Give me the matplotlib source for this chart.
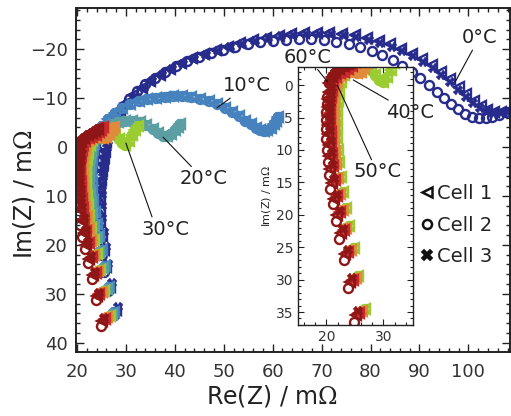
import matplotlib
matplotlib.use('Agg')
import matplotlib.pyplot as plt
from matplotlib.lines import Line2D
from matplotlib.ticker import MultipleLocator

plt.rcParams['font.family'] = 'DejaVu Sans'
plt.rcParams['mathtext.fontset'] = 'dejavuserif'

temps = [0, 10, 20, 30, 40, 50, 60]
colors = ['#262b8c', '#4682bd', '#5b9ea4', '#9acd32', '#e08a3c', '#c62a2a', '#8e1616']
cell_labels = ['Cell 1', 'Cell 2', 'Cell 3']
cell_markers = ['<', 'o', 'X']

# 0 °C - the three cells separate clearly, so each has its own spectrum
re_0_c1 = [27.9, 26.7, 26.0, 25.5, 25.1, 24.8, 24.7, 24.7, 24.8, 24.9, 25.1, 25.3, 25.5, 25.8,
           26.0, 26.7, 27.6, 28.7, 30.0, 31.5, 33.2, 35.0, 37.0, 39.1, 41.3, 43.6, 46.0, 48.4,
           50.9, 53.4, 56.0, 58.6, 61.2, 63.8, 66.4, 69.0, 71.6, 74.2, 76.8, 79.3, 81.7, 84.0,
           86.3, 88.5, 90.6, 92.6, 94.5, 96.3, 98.0, 99.6, 101.1, 102.5, 103.9, 105.3, 106.7,
           108.1, 109.5]
im_0_c1 = [33.4, 28.6, 24.6, 21.1, 18.1, 15.3, 12.8, 10.5, 8.5, 6.7, 5.0, 3.5, 2.1, 0.8,
           -1.0, -3.3, -5.4, -7.3, -9.0, -10.6, -12.1, -13.5, -14.8, -16.0, -17.1, -18.1, -19.0, -19.8,
           -20.5, -21.2, -21.8, -22.3, -22.7, -23.0, -23.2, -23.3, -23.3, -23.1, -22.8, -22.3, -21.7, -21.0,
           -20.1, -19.1, -18.0, -16.7, -15.3, -13.8, -12.3, -10.8, -9.4, -8.3, -7.5, -7.1, -7.1,
           -7.4, -7.9]
re_0_c2 = [27.6, 26.4, 25.6, 25.1, 24.7, 24.4, 24.3, 24.3, 24.4, 24.5, 24.7, 24.9, 25.1, 25.3,
           25.6, 26.2, 27.0, 28.0, 29.2, 30.6, 32.2, 34.0, 35.9, 38.0, 40.2, 42.5, 44.9, 47.3,
           49.8, 52.3, 54.9, 57.5, 60.1, 62.7, 65.3, 67.9, 70.5, 73.0, 75.5, 77.9, 80.2, 82.4,
           84.5, 86.5, 88.4, 90.2, 91.9, 93.5, 95.0, 96.5, 97.9, 99.3, 100.7, 102.1, 103.5,
           104.9, 106.3, 107.7]
im_0_c2 = [34.3, 29.5, 25.5, 22.0, 19.0, 16.2, 13.6, 11.3, 9.2, 7.4, 5.7, 4.1, 2.7, 1.3,
           -0.4, -2.4, -4.4, -6.3, -8.1, -9.8, -11.4, -12.9, -14.2, -15.4, -16.5, -17.5, -18.4, -19.2,
           -19.9, -20.5, -21.0, -21.4, -21.7, -21.9, -22.0, -22.0, -21.8, -21.5, -21.0, -20.4, -19.6, -18.7,
           -17.7, -16.6, -15.4, -14.1, -12.7, -11.3, -10.0, -8.8, -7.7, -6.8, -6.2, -5.9, -5.9,
           -6.2, -6.6, -7.1]
re_0_c3 = [28.3, 27.1, 26.4, 25.9, 25.5, 25.2, 25.1, 25.1, 25.2, 25.3, 25.5, 25.7, 25.9, 26.1,
           26.4, 27.1, 28.0, 29.1, 30.4, 31.9, 33.6, 35.4, 37.4, 39.5, 41.7, 44.0, 46.4, 48.8,
           51.3, 53.8, 56.4, 59.0, 61.6, 64.2, 66.8, 69.4, 72.0, 74.6, 77.1, 79.6, 82.0, 84.3,
           86.5, 88.7, 90.7, 92.7, 94.5, 96.3, 97.9, 99.5, 101.0, 102.4, 103.8, 105.2, 106.6,
           108.0, 109.4]
im_0_c3 = [32.7, 27.8, 23.9, 20.4, 17.4, 14.6, 12.1, 9.9, 7.9, 6.1, 4.5, 3.0, 1.6, 0.3,
           -1.2, -3.3, -5.3, -7.2, -8.9, -10.5, -12.0, -13.4, -14.7, -15.9, -17.0, -18.0, -18.9, -19.7,
           -20.4, -21.1, -21.7, -22.2, -22.6, -22.9, -23.0, -23.1, -23.0, -22.8, -22.4, -21.9, -21.3, -20.5,
           -19.6, -18.6, -17.4, -16.1, -14.7, -13.2, -11.7, -10.3, -9.0, -8.0, -7.3, -6.9, -6.9,
           -7.2, -7.6]

# 10-50 °C - the cells overlap, one spectrum each
re_10 = [27.6, 26.5, 25.7, 25.1, 24.5, 24.0, 23.6, 23.3, 23.1, 23.0, 22.95, 22.95, 23.0, 23.1, 23.3,
         23.5, 24.2, 25.2, 26.4, 27.8, 29.3, 30.9, 32.6, 34.3, 36.1, 37.9, 39.7, 41.5, 43.3, 45.1,
         46.9, 48.6, 50.2, 51.7, 53.1, 54.4, 55.5, 56.5, 57.4, 58.2, 58.9, 59.6, 60.2, 60.7, 61.1]
im_10 = [33.8, 28.7, 24.4, 21.0, 18.2, 15.7, 13.3, 11.1, 9.2, 7.4, 5.8, 4.3, 2.9, 1.6, 0.4,
         -0.8, -2.6, -4.2, -5.7, -7.0, -8.0, -8.8, -9.4, -9.8, -10.1, -10.3, -10.4, -10.4, -10.2, -9.8,
         -9.3, -8.7, -8.0, -7.2, -6.3, -5.4, -4.6, -3.9, -3.4, -3.2, -3.4, -3.9, -4.6, -5.4, -6.2]
re_20 = [27.2, 26.1, 25.3, 24.6, 24.0, 23.5, 23.1, 22.8, 22.6, 22.5, 22.45, 22.45, 22.5, 22.6, 22.8,
         23.0, 23.6, 24.5, 25.6, 26.9, 28.3, 29.8, 31.3, 32.8, 34.2, 35.5, 36.6, 37.6, 38.5, 39.3,
         40.0, 40.6, 41.1]
im_20 = [34.1, 29.0, 24.7, 21.4, 18.6, 16.1, 13.7, 11.5, 9.6, 7.8, 6.2, 4.7, 3.3, 2.0, 0.8,
         -0.6, -1.8, -2.9, -3.8, -4.6, -5.1, -5.4, -5.4, -5.1, -4.5, -3.7, -2.9, -2.3, -2.2, -2.7,
         -3.4, -4.1, -4.7]
re_30 = [26.7, 25.6, 24.8, 24.0, 23.4, 22.9, 22.5, 22.2, 22.0, 21.9, 21.85, 21.85, 21.9, 22.0, 22.2,
         22.6, 23.1, 23.7, 24.4, 25.3, 26.2, 27.0, 27.8, 28.5, 29.2, 29.9, 30.6, 31.3, 31.9, 32.4]
im_30 = [34.5, 29.4, 25.1, 21.8, 19.0, 16.5, 14.1, 11.9, 10.0, 8.2, 6.6, 5.1, 3.7, 2.4, 1.2,
         -0.5, -1.5, -2.3, -2.8, -3.1, -3.2, -3.0, -2.4, -1.6, -0.8, -0.5, -1.3, -2.4, -3.4, -4.3]
re_40 = [26.2, 25.1, 24.3, 23.5, 22.9, 22.4, 22.0, 21.7, 21.5, 21.4, 21.3, 21.25, 21.25, 21.3, 21.4, 21.6,
         21.9, 22.5, 23.2, 23.9, 24.6, 25.3, 26.0, 26.6, 27.1, 27.5]
im_40 = [34.8, 29.7, 25.4, 22.1, 19.3, 16.8, 14.4, 12.2, 10.3, 8.5, 6.9, 5.4, 4.0, 2.7, 1.5, 0.4,
         -0.6, -1.4, -2.0, -2.2, -2.0, -1.8, -2.1, -2.7, -3.4, -4.0]
re_50 = [25.7, 24.6, 23.8, 23.0, 22.4, 21.9, 21.5, 21.2, 21.0, 20.85, 20.75, 20.7, 20.7, 20.7, 20.8, 20.95,
         21.2, 21.7, 22.4, 23.1, 23.8, 24.5, 25.0, 25.3]
im_50 = [35.1, 30.0, 25.7, 22.4, 19.6, 17.1, 14.7, 12.5, 10.6, 8.8, 7.2, 5.7, 4.3, 3.0, 1.8, 0.7,
         -0.4, -1.2, -1.8, -2.1, -2.5, -3.0, -3.5, -4.0]

# 60 °C - inductive tails differ per cell, the short top part is shared
re_60_top = [20.5, 20.9, 21.5, 22.2, 23.0, 23.7, 24.2]
im_60_top = [-0.3, -1.2, -1.9, -2.5, -2.9, -3.3, -3.6]
re_60_c1 = [25.2, 24.1, 23.3, 22.5, 21.9, 21.4, 21.0, 20.7, 20.5, 20.4, 20.3, 20.3, 20.3, 20.3, 20.35, 20.45] + re_60_top
im_60_c1 = [35.5, 30.4, 26.1, 22.8, 20.0, 17.5, 15.1, 12.9, 11.0, 9.2, 7.6, 6.1, 4.7, 3.4, 2.2, 1.1] + im_60_top
re_60_c2 = [24.9, 23.8, 23.0, 22.2, 21.6, 21.1, 20.7, 20.4, 20.2, 20.1, 20.0, 20.0, 20.0, 20.0, 20.05, 20.15] + re_60_top
im_60_c2 = [36.5, 31.3, 27.0, 23.7, 20.9, 18.4, 16.0, 13.8, 11.8, 10.0, 8.3, 6.8, 5.4, 4.1, 2.9, 1.8] + im_60_top
re_60_c3 = [25.6, 24.5, 23.7, 22.9, 22.3, 21.8, 21.4, 21.1, 20.9, 20.8, 20.7, 20.7, 20.7, 20.75, 20.85, 21.0] + re_60_top
im_60_c3 = [34.9, 29.8, 25.5, 22.2, 19.4, 16.9, 14.5, 12.3, 10.4, 8.6, 7.0, 5.5, 4.1, 2.8, 1.6, 0.5] + im_60_top

spectra = {
    0: [(re_0_c1, im_0_c1), (re_0_c2, im_0_c2), (re_0_c3, im_0_c3)],
    10: [(re_10, im_10)] * 3,
    20: [(re_20, im_20)] * 3,
    30: [(re_30, im_30)] * 3,
    40: [(re_40, im_40)] * 3,
    50: [(re_50, im_50)] * 3,
    60: [(re_60_c1, im_60_c1), (re_60_c2, im_60_c2), (re_60_c3, im_60_c3)],
}


def draw_cell(ax, re, im, marker, color):
    if marker == 'X':
        ax.plot(re, im, ls='none', marker='X', ms=7, mfc=color, mec=color, mew=0.3)
    elif marker == '<':
        ax.plot(re, im, ls='none', marker='<', ms=7.5, mfc='none', mec=color, mew=1.7)
    else:
        ax.plot(re, im, ls='none', marker='o', ms=6.5, mfc='none', mec=color, mew=1.7)


def style_axes(ax, length, width, labelsize):
    ax.tick_params(which='both', direction='in', top=True, right=True,
                   colors='#222222', labelcolor='#333333', labelsize=labelsize)
    ax.tick_params(which='major', length=length, width=width)
    ax.tick_params(which='minor', length=length / 2, width=width)
    for spine in ax.spines.values():
        spine.set_linewidth(1.4)
        spine.set_edgecolor('#222222')


fig = plt.figure(figsize=(5.11, 4.16), dpi=100)
ax = fig.add_axes([0.1487, 0.1538, 0.8493, 0.8269])

# hot spectra drawn last so they sit on top
for T, c in zip(temps, colors):
    for (re, im), m in zip(spectra[T], cell_markers):
        draw_cell(ax, re, im, m, c)

ax.set_xlim(19.8, 108.5)
ax.set_ylim(41.9, -28.4)
ax.xaxis.set_major_locator(MultipleLocator(10))
ax.xaxis.set_minor_locator(MultipleLocator(2))
ax.yaxis.set_major_locator(MultipleLocator(10))
ax.yaxis.set_minor_locator(MultipleLocator(2))
style_axes(ax, 6, 1.0, 13)
ax.tick_params(axis='x', which='major', pad=8)
ax.tick_params(axis='y', which='major', pad=6)
ax.set_xlabel(r'Re(Z) / m$\Omega$', fontsize=17, color='#222222')
ax.set_ylabel(r'Im(Z) / m$\Omega$', fontsize=17, color='#222222')
ax.xaxis.set_label_coords(0.452, -0.09)
ax.yaxis.set_label_coords(-0.09, 0.46)

line = dict(arrowstyle='-', color='#111111', lw=0.8, shrinkA=0, shrinkB=0)
ax.annotate('0°C', xy=(97.3, -13.3), xytext=(102.2, -22.3), ha='center', va='center',
            fontsize=14, color='#222222', arrowprops=line)
ax.annotate('10°C', xy=(48.6, -8.0), xytext=(54.8, -12.5), ha='center', va='center',
            fontsize=14, color='#222222', arrowprops=line)
ax.annotate('20°C', xy=(37.6, -2.0), xytext=(45.8, 6.5), ha='center', va='center',
            fontsize=14, color='#222222', arrowprops=line)
ax.annotate('30°C', xy=(30.0, -0.8), xytext=(38.0, 16.8), ha='center', va='center',
            fontsize=14, color='#222222', arrowprops=dict(line, relpos=(0.25, 1.0)))

handles = [Line2D([], [], ls='none', marker='<', ms=7, mfc='none', mec='#111111', mew=1.8),
           Line2D([], [], ls='none', marker='o', ms=6.5, mfc='none', mec='#111111', mew=1.8),
           Line2D([], [], ls='none', marker='X', ms=8, mfc='#111111', mec='#111111', mew=0.3)]
ax.legend(handles, cell_labels, loc='upper left', bbox_to_anchor=(0.79, 0.488),
          frameon=False, fontsize=14, handlelength=0.8, handletextpad=0.15,
          labelspacing=0.64, borderpad=0, borderaxespad=0, labelcolor='#222222')

# zoom on the warm spectra
ins = fig.add_axes([0.5832, 0.2188, 0.2250, 0.6202])
for T, c in zip(temps[3:], colors[3:]):
    for (re, im), m in zip(spectra[T], cell_markers):
        draw_cell(ins, re, im, m, c)
ins.set_xlim(15, 35.2)
ins.set_ylim(37, -2.8)
ins.xaxis.set_major_locator(MultipleLocator(10))
ins.xaxis.set_minor_locator(MultipleLocator(2))
ins.yaxis.set_major_locator(MultipleLocator(5))
ins.yaxis.set_minor_locator(MultipleLocator(1))
style_axes(ins, 4, 0.8, 10)
for spine in ins.spines.values():
    spine.set_linewidth(1.0)
ins.set_ylabel(r'Im(Z) / m$\Omega$', fontsize=8, color='#222222', labelpad=2)

ins.annotate('60°C', xy=(20.2, -0.5), xytext=(16.7, -4.3), ha='center', va='center',
             fontsize=14, color='#222222', arrowprops=line, annotation_clip=False)
ins.annotate('40°C', xy=(24.7, -0.8), xytext=(34.6, 4.2), ha='center', va='center',
             fontsize=14, color='#222222', arrowprops=line, annotation_clip=False)
ins.annotate('50°C', xy=(21.9, 0.0), xytext=(28.9, 13.4), ha='center', va='center',
             fontsize=14, color='#222222', arrowprops=line, annotation_clip=False)

fig.savefig('out.png', dpi=100)
